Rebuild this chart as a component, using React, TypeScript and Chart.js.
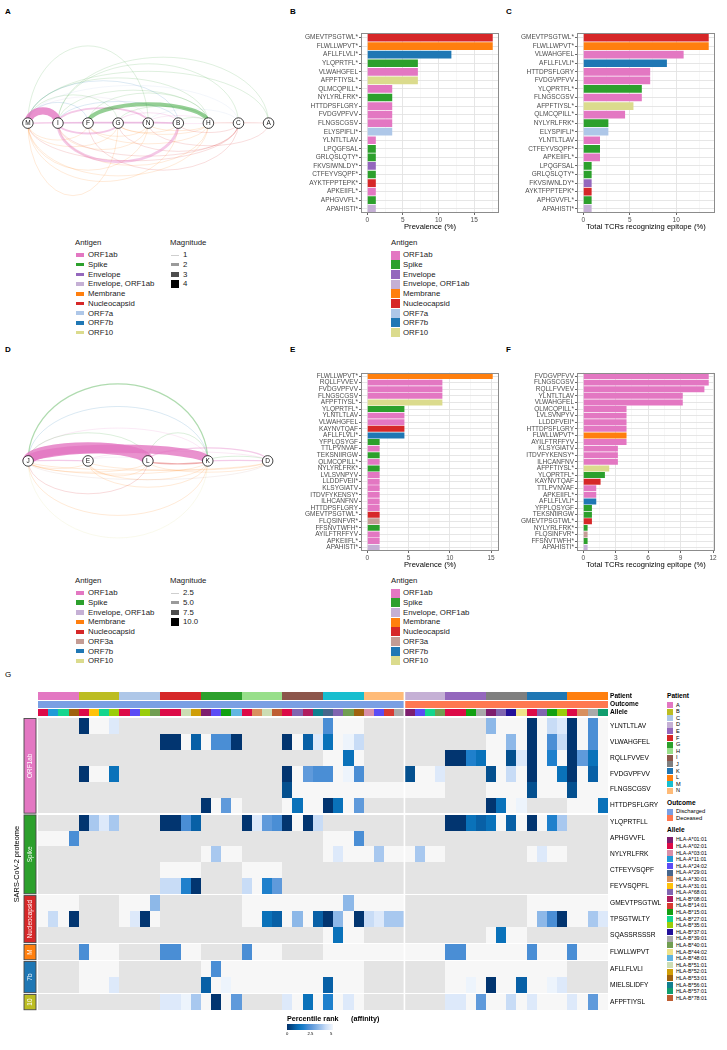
import React, { useEffect, useRef } from "react";
import { Chart, registerables } from "chart.js";

Chart.register(...registerables);

const FONT = "'Liberation Sans', Arial, Helvetica, sans-serif";

// ---------------- colours (styles) ----------------
const ANTIGEN_COLOR: Record<string, string> = {
  "ORF1ab": "#E377C2",
  "Spike": "#2CA02C",
  "Envelope": "#9467BD",
  "Envelope, ORF1ab": "#C5B0D5",
  "Membrane": "#FF7F0E",
  "Nucleocapsid": "#D62728",
  "ORF7a": "#AEC7E8",
  "ORF7b": "#1F77B4",
  "ORF10": "#DBDB8D",
  "ORF3a": "#C49C94",
};
const PATIENT_COLOR: Record<string, string> = {
  A: "#E377C2", B: "#BCBD22", C: "#AEC7E8", D: "#C5B0D5", E: "#9467BD", F: "#D62728", G: "#2CA02C",
  H: "#98DF8A", I: "#8C564B", J: "#7F7F7F", K: "#1F77B4", L: "#FF7F0E", M: "#17BECF", N: "#FFBB78",
};
const OUTCOME_COLOR: Record<string, string> = { Discharged: "#7A9FE3", Deceased: "#FF7850" };
const ALLELE_COLOR: Record<string, string> = {
  "HLA-A*01:01": "#7E1E6E", "HLA-A*02:01": "#DC0A47", "HLA-A*03:01": "#D98FA8", "HLA-A*11:01": "#1F9BD7",
  "HLA-A*24:02": "#5B4CF5", "HLA-A*29:01": "#46668C", "HLA-A*30:01": "#D9905E", "HLA-A*31:01": "#FFC20A",
  "HLA-A*68:01": "#8065B0", "HLA-B*08:01": "#B01E5E", "HLA-B*14:01": "#D83A32", "HLA-B*15:01": "#12A012",
  "HLA-B*27:01": "#14D68E", "HLA-B*35:01": "#9ACD0A", "HLA-B*37:01": "#22119A", "HLA-B*39:01": "#AAAAAA",
  "HLA-B*40:01": "#719E52", "HLA-B*44:02": "#EFE38A", "HLA-B*48:01": "#62B6E2", "HLA-B*51:01": "#CCDDB4",
  "HLA-B*52:01": "#CF9E08", "HLA-B*53:01": "#A0620E", "HLA-B*56:01": "#11808F", "HLA-B*57:01": "#119E6E",
  "HLA-B*78:01": "#BE5E32",
};
const PROTEIN_COLOR: Record<string, string> = {
  ORF1ab: "#E377C2", Spike: "#2CA02C", Nucleocapsid: "#D62728", M: "#FF7F0E", "7b": "#1F77B4", "10": "#BCBD22",
};

// ---------------- Panel A (arc diagram, discharged) ----------------
const aNodes = ["M", "I", "F", "G", "N", "B", "H", "C", "A"];
const aFrom = ["M","I","G","F","M","I","I","M","M","I","F","M","M","M","I","M","G","N","M","N","B","M","I","H","B",
  "I","I","M","M","M","M","I","F","N","G","M","M","I","F","G","N","I","M","G","B","F"];
const aTo = ["I","N","B","H","N","A","C","A","H","H","H","G","B","C","B","F","H","C","N","H","H","B","B","A","H",
  "B","G","G","B","N","H","H","C","A","C","G","F","N","H","H","H","C","C","B","C","N"];
const aAntigen = ["ORF1ab","ORF1ab","ORF1ab","Spike","Spike","Spike","Spike","Spike","Spike","Spike","Spike","Spike",
  "ORF7b","ORF7a","ORF7b","ORF7b","Spike","ORF7a","Envelope, ORF1ab","ORF1ab","Spike","ORF1ab","Envelope","Nucleocapsid","ORF1ab",
  "ORF1ab","ORF1ab","Membrane","Membrane","Membrane","Membrane","Membrane","Nucleocapsid","Nucleocapsid","Nucleocapsid",
  "Membrane","Membrane","Membrane","Membrane","Membrane","Membrane","Nucleocapsid","Nucleocapsid","Membrane","Nucleocapsid","Membrane"];
const aMagnitude = [4,2,1.5,3,1,1,1,1,1,1,1,1,1,1,1,1,1,1,1,1,1,2,1.5,1.5,1,
  2.5,2,1,1,1,1,1,1,1,1,1,1,1,1,1,1,1,1,1,1,1];
// layout: signed arc height (px) — positive above the node line, negative below
const aArcHeight = [13,16,11,20,82,70,63,55,48,35,32,30,45,40,23,22,18,15,28,8,6,0.6,0.4,0.5,-0.5,
  -41,-11,-77,-62,-50,-56,-45,-50,-24,-30,-25,-18,-28,-22,-12,-8,-35,-40,-10,-10,-14];

// ---------------- Panel D (arc diagram, deceased) ----------------
const dNodes = ["J", "E", "L", "K", "D"];
const dFrom = ["J","J","J","J","L","J","J","L","E","K","J","K","E","J","J","J","E","J","J","E","L","E","J","L","J","E","J"];
const dTo = ["K","K","K","L","K","L","K","D","D","D","E","D","L","K","K","L","K","K","L","K","D","D","D","K","E","L","D"];
const dAntigen = ["Spike","ORF7b","ORF1ab","Spike","Spike","ORF1ab","ORF1ab","ORF1ab","ORF1ab","Spike","ORF1ab","ORF1ab",
  "Envelope, ORF1ab","ORF10","Membrane","Nucleocapsid","Membrane","Membrane","Membrane","Membrane","Membrane","Membrane",
  "Membrane","Nucleocapsid","Membrane","Membrane","ORF3a"];
const dMagnitude = [2.5,1.5,1,1.5,1.5,10,7.5,2.5,1.5,1.5,2.5,2.5,1,1.5,1.5,1.5,1.5,1,1,1,1,1,1,2.5,1,1,1];
const dArcHeight = [82,58,35,30,30,14,13,14,10,5,0.5,0.5,4,-82,-58,-35,-28,-14,-12,-20,-12,-10,-10,-3,-8,-16,-20];

// ---------------- Panel B ----------------
const bEpitopes = ["GMEVTPSGTWL*","FLWLLWPVT*","AFLLFLVLI*","YLQPRTFL*","VLWAHGFEL","AFPFTIYSL*","QLMCQPILL*",
  "NYLYRLFRK*","HTTDPSFLGRY","FVDGVPFVV","FLNGSCGSV","ELYSPIFLI*","YLNTLTLAV","LPQGFSAL","GRLQSLQTY*",
  "FKVSIWNLDY*","CTFEYVSQPF*","AYKTFPPTEPK*","APKEIIFL*","APHGVVFL*","APAHISTI*"];
const bPrevalence = [17.6,17.6,11.8,7.1,7.1,7.1,3.5,3.5,3.5,3.5,3.5,3.5,1.2,1.2,1.2,1.2,1.2,1.2,1.2,1.2,1.2];
const bAntigen = ["Nucleocapsid","Membrane","ORF7b","Spike","ORF1ab","ORF10","ORF1ab","Spike","ORF1ab","ORF1ab",
  "ORF1ab","ORF7a","ORF1ab","Spike","Spike","Envelope","Spike","Nucleocapsid","ORF1ab","Spike","Envelope, ORF1ab"];

// ---------------- Panel C ----------------
const cEpitopes = ["GMEVTPSGTWL*","FLWLLWPVT*","VLWAHGFEL","AFLLFLVLI*","HTTDPSFLGRY","FVDGVPFVV","YLQPRTFL*",
  "FLNGSCGSV","AFPFTIYSL*","QLMCQPILL*","NYLYRLFRK*","ELYSPIFLI*","YLNTLTLAV","CTFEYVSQPF*","APKEIIFL*",
  "LPQGFSAL","GRLQSLQTY*","FKVSIWNLDY*","AYKTFPPTEPK*","APHGVVFL*","APAHISTI*"];
const cTcrPct = [13.5,13.5,10.8,9.0,7.2,7.2,6.3,6.3,5.4,4.5,2.7,2.7,1.8,1.8,1.8,0.9,0.9,0.9,0.9,0.9,0.9];
const cAntigen = ["Nucleocapsid","Membrane","ORF1ab","ORF7b","ORF1ab","ORF1ab","Spike","ORF1ab","ORF10","ORF1ab",
  "Spike","ORF7a","ORF1ab","Spike","ORF1ab","Spike","Spike","Envelope","Nucleocapsid","Spike","Envelope, ORF1ab"];

// ---------------- Panel E ----------------
const eEpitopes = ["FLWLLWPVT*","RQLLFVVEV","FVDGVPFVV","FLNGSCGSV","AFPFTIYSL*","YLQPRTFL*","YLNTLTLAV",
  "VLWAHGFEL","KAYNVTQAF","AFLLFLVLI*","YFPLQSYGF","TTLPVNVAF","TEKSNIIRGW","QLMCQPILL*","NYLYRLFRK*",
  "LVLSVNPYV","LLDDFVEII*","KLSYGIATV","ITDVFYKENSY*","ILHCANFNV","HTTDPSFLGRY","GMEVTPSGTWL*","FLQSINFVR*",
  "FFSNVTWFH*","AYILFTRFFYV","APKEIIFL*","APAHISTI*"];
const ePrevalence = [15.2,9.1,9.1,9.1,9.1,4.5,4.5,4.5,4.5,4.5,1.5,1.5,1.5,1.5,1.5,1.5,1.5,1.5,1.5,1.5,1.5,1.5,1.5,1.5,1.5,1.5,1.5];
const eAntigen = ["Membrane","ORF1ab","ORF1ab","ORF1ab","ORF10","Spike","ORF1ab","ORF1ab","Nucleocapsid","ORF7b",
  "Spike","ORF1ab","Spike","ORF1ab","Spike","ORF1ab","ORF1ab","ORF1ab","ORF1ab","ORF1ab","ORF1ab","Nucleocapsid",
  "ORF3a","Spike","ORF1ab","ORF1ab","Envelope, ORF1ab"];

// ---------------- Panel F ----------------
const fEpitopes = ["FVDGVPFVV","FLNGSCGSV","RQLLFVVEV","YLNTLTLAV","VLWAHGFEL","QLMCQPILL*","LVLSVNPYV",
  "LLDDFVEII*","HTTDPSFLGRY","FLWLLWPVT*","AYILFTRFFYV","KLSYGIATV","ITDVFYKENSY*","ILHCANFNV","AFPFTIYSL*",
  "YLQPRTFL*","KAYNVTQAF","TTLPVNVAF","APKEIIFL*","AFLLFLVLI*","YFPLQSYGF","TEKSNIIRGW","GMEVTPSGTWL*",
  "NYLYRLFRK*","FLQSINFVR*","FFSNVTWFH*","APAHISTI*"];
const fTcrPct = [11.6,11.6,11.2,9.2,9.2,4.0,4.0,4.0,4.0,4.0,4.0,3.2,3.2,3.2,2.4,2.0,1.6,1.2,1.2,1.2,0.8,0.8,0.8,0.4,0.4,0.4,0.4];
const fAntigen = ["ORF1ab","ORF1ab","ORF1ab","ORF1ab","ORF1ab","ORF1ab","ORF1ab","ORF1ab","ORF1ab","Membrane",
  "ORF1ab","ORF1ab","ORF1ab","ORF1ab","ORF10","Spike","Nucleocapsid","ORF1ab","ORF1ab","ORF7b","Spike","Spike",
  "Nucleocapsid","Spike","ORF3a","Spike","Envelope, ORF1ab"];

// ---------------- Panel G (heatmap) ----------------
const hmPeptides = ["YLNTLTLAV","VLWAHGFEL","RQLLFVVEV","FVDGVPFVV","FLNGSCGSV","HTTDPSFLGRY","YLQPRTFLL",
  "APHGVVFL","NYLYRLFRK","CTFEYVSQPF","FEYVSQPFL","GMEVTPSGTWL","TPSGTWLTY","SQASSRSSSR","FLWLLWPVT",
  "AFLLFLVLI","MIELSLIDFY","AFPFTIYSL"];
const hmProtein = ["ORF1ab","ORF1ab","ORF1ab","ORF1ab","ORF1ab","ORF1ab","Spike","Spike","Spike","Spike","Spike",
  "Nucleocapsid","Nucleocapsid","Nucleocapsid","M","7b","7b","10"];
const hmPatients = ["A","B","C","F","G","H","I","M","N","D","E","J","K","L"];
const hmOutcome = ["Discharged","Discharged","Discharged","Discharged","Discharged","Discharged","Discharged",
  "Discharged","Discharged","Deceased","Deceased","Deceased","Deceased","Deceased"];
const hmAlleles = [
  ["HLA-A*02:01","HLA-A*11:01","HLA-B*27:01","HLA-B*53:01"],
  ["HLA-A*02:01","HLA-A*31:01","HLA-B*27:01","HLA-B*35:01"],
  ["HLA-A*02:01","HLA-A*24:02","HLA-B*35:01","HLA-B*40:01"],
  ["HLA-A*02:01","HLA-A*02:01","HLA-B*51:01","HLA-B*52:01"],
  ["HLA-A*01:01","HLA-A*24:02","HLA-B*15:01","HLA-B*48:01"],
  ["HLA-A*02:01","HLA-A*30:01","HLA-B*51:01","HLA-B*78:01"],
  ["HLA-A*02:01","HLA-A*68:01","HLA-B*08:01","HLA-B*56:01"],
  ["HLA-A*29:01","HLA-A*68:01","HLA-B*40:01","HLA-B*53:01"],
  ["HLA-A*03:01","HLA-A*24:02","HLA-B*14:01","HLA-B*39:01"],
  ["HLA-A*01:01","HLA-A*24:02","HLA-B*27:01","HLA-B*40:01"],
  ["HLA-A*02:01","HLA-A*02:01","HLA-B*15:01","HLA-B*39:01"],
  ["HLA-A*01:01","HLA-A*68:01","HLA-B*37:01","HLA-B*44:02"],
  ["HLA-A*02:01","HLA-A*68:01","HLA-B*15:01","HLA-B*35:01"],
  ["HLA-A*02:01","HLA-A*30:01","HLA-B*39:01","HLA-B*57:01"],
];
// percentile rank per cell, one group of 4 alleles per patient:
// '.' = not tested (NA), '-' = above 5 (no binding), other codes -> RANK_VALUE
const hmRank = [
  ".... 0--v .... .... .... .... .... 5--- .... .... .... 7--- 0-9v 0-5-",
  ".... .... .... 00-2 -550 .... 0-2v 3-f9 .... .... .... --7- 0-59 0-5-",
  ".... .... .... .... .... .... .... --3- .... .... 0043 --1v 0-4- 063-",
  ".... 0--3 .... .... .... .... 0-65 5-f5 .... 1--v .... 1-9- 0--3 0-2-",
  ".... .... .... .... .... .... 1--- ---- ---- ---- .... ---- 1--- 1---",
  ".... .... .... .... 0-6- .... -3-- 03-6 .... .... .... 03-f .... ---3",
  ".... 08v8 .... 0052 .... 0v65 0-09 .... .... .... 0032 3-2- 0-48 ....",
  "---5 .... .... .... .... .... .... ---5 .... .... .... .... .... ....",
  ".... .... .... .... -8-- .... .... -v-- -8-- -8-- .... .... -v-- ....",
  ".... .... .... ---- .... ---- .... .... .... .... .... .... .... ....",
  ".... .... .... 9940 .... 9-46 .... .... .... .... .... .... .... ....",
  "---- .... ---7 .... .... ---- ---- --7- ---- .... .... .... ---- ----",
  "-9-0 .... -v0- .... .... --32 -7-2 07-0 9v88 .... .... .... -750 --8v",
  ".... .... .... .... .... .... .... -3-- .... .... .... -3-- .... ....",
  ".... 5--- .... 55-- .... 5--- .... ---- ---- ---- 55-- ---- 5--- 5---",
  ".... ---- .... .... -5-- ---- ---- ---- .... .... ---- ---- ---- ....",
  ".... ---v .... .... 2-f- ---- ---- 2--- .... .... --f- 0--2 --fv ....",
  ".... .... .... vvf8 -0-6 .... v-3- 4-v- .... .... vv-6 --9- v--- v-6-",
];
const RANK_VALUE: Record<string, number> = {
  "0": 0.1, "1": 0.6, "2": 0.9, "3": 1.3, "4": 1.8, "5": 2.3, "6": 2.7, "7": 3.4, "8": 3.8, "9": 4.2, v: 4.6, f: 4.9,
};
const RANK_STOPS: [number, string][] = [
  [0, "#02306A"], [0.6, "#04508F"], [0.9, "#0860A6"], [1.3, "#0A72BA"], [1.8, "#1F80CC"], [2.3, "#4A8ED5"],
  [2.7, "#5F9ADB"], [3.4, "#8DB8E8"], [3.8, "#A8C8EF"], [4.2, "#C8DCF6"], [4.6, "#DDE9FA"], [5, "#F2F7FD"],
];
const NA_COLOR = "#E4E4E4";
const NOBIND_COLOR = "#F7F7F7";

// ---------------- helpers ----------------
function hexToRgb(h: string) {
  const n = parseInt(h.slice(1), 16);
  return [(n >> 16) & 255, (n >> 8) & 255, n & 255];
}
function rgba(h: string, a: number) {
  const [r, g, b] = hexToRgb(h);
  return `rgba(${r},${g},${b},${a})`;
}
function rankColor(v: number) {
  for (let i = 0; i < RANK_STOPS.length - 1; i++) {
    const [v0, c0] = RANK_STOPS[i];
    const [v1, c1] = RANK_STOPS[i + 1];
    if (v <= v1) {
      const t = Math.max(0, (v - v0) / (v1 - v0));
      const a = hexToRgb(c0), b = hexToRgb(c1);
      return `rgb(${Math.round(a[0] + (b[0] - a[0]) * t)},${Math.round(a[1] + (b[1] - a[1]) * t)},${Math.round(a[2] + (b[2] - a[2]) * t)})`;
    }
  }
  return RANK_STOPS[RANK_STOPS.length - 1][1];
}

const panelBorder = {
  id: "panelBorder",
  afterDatasetsDraw(chart: any) {
    const { ctx, chartArea: a } = chart;
    ctx.save();
    ctx.strokeStyle = "#8C8C8C";
    ctx.lineWidth = 1;
    ctx.strokeRect(Math.round(a.left) + 0.5, Math.round(a.top) + 0.5, Math.round(a.right - a.left) - 1, Math.round(a.bottom - a.top) - 1);
    ctx.restore();
  },
};

function barConfig(labels: string[], values: number[], antigens: string[], xmin: number, xmax: number,
  major: number[], minor: number[], title: string, yAxisW: number, padTop: number) {
  const all = [...major, ...minor].sort((p, q) => p - q);
  const isMajor = (v: any) => major.indexOf(v) >= 0;
  return {
    type: "bar",
    data: {
      labels,
      datasets: [{
        data: values,
        backgroundColor: antigens.map((a) => ANTIGEN_COLOR[a]),
        borderWidth: 0,
        barPercentage: 1,
        categoryPercentage: 0.9,
      }],
    },
    options: {
      indexAxis: "y",
      animation: false,
      responsive: false,
      devicePixelRatio: 1,
      layout: { padding: { top: padTop, right: 3, left: 0, bottom: 0 } },
      plugins: { legend: { display: false }, tooltip: { enabled: false } },
      scales: {
        x: {
          type: "linear",
          min: xmin,
          max: xmax,
          afterBuildTicks: (s: any) => { s.ticks = all.map((v) => ({ value: v })); },
          ticks: {
            autoSkip: false, maxRotation: 0, padding: 1, color: "#4D4D4D",
            font: { family: FONT, size: 6.5 },
            callback: (v: any) => (isMajor(v) ? String(v) : ""),
          },
          grid: {
            color: (c: any) => (c.tick && isMajor(c.tick.value) ? "#E3E3E3" : "#F1F1F1"),
            lineWidth: (c: any) => (c.tick && isMajor(c.tick.value) ? 0.9 : 0.6),
            tickLength: 2,
            tickColor: (c: any) => (c.tick && isMajor(c.tick.value) ? "#555" : "rgba(0,0,0,0)"),
          },
          border: { display: false },
          title: { display: true, text: title, color: "#000", font: { family: FONT, size: 7.6 }, padding: { top: 0, bottom: 2 } },
          afterFit: (s: any) => { s.height = 20; },
        },
        y: {
          type: "category",
          ticks: { autoSkip: false, padding: 1, color: "#4D4D4D", font: { family: FONT, size: 6.5 } },
          grid: { offset: false, color: "#E3E3E3", lineWidth: 0.9, tickLength: 2, tickColor: "#555" },
          border: { display: false },
          afterFit: (s: any) => { s.width = yAxisW; },
        },
      },
    },
    plugins: [panelBorder],
  };
}

function arcConfig(nodes: string[], from: string[], to: string[], antigen: string[], mag: number[], arcH: number[],
  pxPerUnit: number, nodeX0: number, nodeY: number, w: number, h: number,
  widthFn: (m: number) => number, alphaFn: (m: number) => number) {
  const order = mag.map((_, i) => i).sort((p, q) => mag[p] - mag[q]);
  return {
    type: "scatter",
    data: {
      datasets: [{
        data: nodes.map((_, i) => ({ x: i, y: 0 })),
        pointRadius: 5.3,
        pointBackgroundColor: "#FFFFFF",
        pointBorderColor: "#111111",
        pointBorderWidth: 0.8,
      }],
    },
    options: {
      animation: false,
      responsive: false,
      devicePixelRatio: 1,
      layout: { padding: 0 },
      plugins: { legend: { display: false }, tooltip: { enabled: false } },
      scales: {
        x: { type: "linear", display: false, min: -nodeX0 / pxPerUnit, max: (w - nodeX0) / pxPerUnit },
        y: { type: "linear", display: false, min: -(h - nodeY), max: nodeY },
      },
    },
    plugins: [{
      id: "arcs",
      beforeDatasetsDraw(chart: any) {
        const { ctx } = chart;
        const xs = chart.scales.x, ys = chart.scales.y;
        const y0 = ys.getPixelForValue(0);
        ctx.save();
        order.forEach((i) => {
          const a = xs.getPixelForValue(nodes.indexOf(from[i]));
          const b = xs.getPixelForValue(nodes.indexOf(to[i]));
          const cx = (a + b) / 2, rx = Math.abs(b - a) / 2;
          const ry = Math.max(0.3, Math.abs(ys.getPixelForValue(arcH[i]) - y0));
          ctx.beginPath();
          if (arcH[i] >= 0) ctx.ellipse(cx, y0, rx, ry, 0, Math.PI, 2 * Math.PI);
          else ctx.ellipse(cx, y0, rx, ry, 0, 0, Math.PI);
          ctx.strokeStyle = rgba(ANTIGEN_COLOR[antigen[i]], alphaFn(mag[i]));
          ctx.lineWidth = widthFn(mag[i]);
          ctx.stroke();
        });
        ctx.restore();
      },
      afterDatasetsDraw(chart: any) {
        const { ctx } = chart;
        const xs = chart.scales.x, ys = chart.scales.y;
        ctx.save();
        ctx.fillStyle = "#111";
        ctx.font = `6.5px ${FONT}`;
        ctx.textAlign = "center";
        ctx.textBaseline = "middle";
        nodes.forEach((n, i) => ctx.fillText(n, xs.getPixelForValue(i), ys.getPixelForValue(0) + 0.3));
        ctx.restore();
      },
    }],
  };
}

// heatmap geometry (layout, in row units)
const HM_GAP = 0.075;
const ANN = { patient: [-1.644, -1.169], outcome: [-1.081, -0.625], allele: [-0.581, -0.125] };

function heatmapConfig() {
  const groupIdx: number[] = [];
  let g = 0;
  hmProtein.forEach((p, r) => { if (r > 0 && p !== hmProtein[r - 1]) g++; groupIdx.push(g); });
  const rowTop = hmProtein.map((_, r) => r + groupIdx[r] * HM_GAP);
  const yMax = rowTop[rowTop.length - 1] + 1;
  const cols: { patient: string; outcome: string; allele: string }[] = [];
  hmPatients.forEach((p, i) => hmAlleles[i].forEach((al) => cols.push({ patient: p, outcome: hmOutcome[i], allele: al })));
  const codes = hmRank.map((s) => s.replace(/ /g, ""));
  const tickVals = [
    (ANN.patient[0] + ANN.patient[1]) / 2, (ANN.outcome[0] + ANN.outcome[1]) / 2, (ANN.allele[0] + ANN.allele[1]) / 2,
    ...rowTop.map((t) => t + 0.5),
  ];
  const tickLabels = ["Patient", "Outcome", "Allele", ...hmPeptides];
  const splitCol = hmOutcome.indexOf("Deceased") * 4;

  return {
    type: "scatter",
    data: { datasets: [{ data: [] as any[] }] },
    options: {
      animation: false,
      responsive: false,
      devicePixelRatio: 1,
      layout: { padding: { left: 38, top: 5.6, right: 0, bottom: 4 } },
      plugins: { legend: { display: false }, tooltip: { enabled: false } },
      scales: {
        x: { type: "linear", display: false, min: 0, max: cols.length },
        y: {
          type: "linear", position: "right", reverse: true, min: ANN.patient[0] - 0.006, max: yMax,
          afterBuildTicks: (s: any) => { s.ticks = tickVals.map((v) => ({ value: v })); },
          ticks: {
            autoSkip: false, padding: 2, color: "#000",
            font: (c: any) => (c.tick && c.tick.value < 0
              ? { family: FONT, size: 6.6, weight: "bold" }
              : { family: FONT, size: 6.6 }),
            callback: (_v: any, i: number) => tickLabels[i],
          },
          grid: { display: false, drawTicks: false },
          border: { display: false },
          afterFit: (s: any) => { s.width = 57; },
        },
      },
    },
    plugins: [{
      id: "heatmap",
      beforeDatasetsDraw(chart: any) {
        const { ctx } = chart;
        const xs = chart.scales.x, ys = chart.scales.y;
        const X = (c: number) => Math.round(xs.getPixelForValue(c));
        const Y = (v: number) => Math.round(ys.getPixelForValue(v));
        ctx.save();
        // top annotations
        cols.forEach((col, c) => {
          const x0 = X(c), x1 = X(c + 1);
          ctx.fillStyle = PATIENT_COLOR[col.patient];
          ctx.fillRect(x0, Y(ANN.patient[0]), x1 - x0, Y(ANN.patient[1]) - Y(ANN.patient[0]));
          ctx.fillStyle = OUTCOME_COLOR[col.outcome];
          ctx.fillRect(x0, Y(ANN.outcome[0]), x1 - x0, Y(ANN.outcome[1]) - Y(ANN.outcome[0]));
          ctx.fillStyle = ALLELE_COLOR[col.allele];
          ctx.fillRect(x0, Y(ANN.allele[0]), x1 - x0, Y(ANN.allele[1]) - Y(ANN.allele[0]));
        });
        // body
        codes.forEach((code, r) => {
          const y0 = Y(rowTop[r]), y1 = Y(rowTop[r] + 1);
          for (let c = 0; c < cols.length; c++) {
            const ch = code[c];
            ctx.fillStyle = ch === "." ? NA_COLOR : ch === "-" ? NOBIND_COLOR : rankColor(RANK_VALUE[ch]);
            const x0 = X(c), x1 = X(c + 1);
            ctx.fillRect(x0, y0, x1 - x0, y1 - y0);
          }
        });
        // column split between outcome groups
        ctx.fillStyle = "#FFFFFF";
        const sx = xs.getPixelForValue(splitCol);
        ctx.fillRect(sx - 0.8, Y(ANN.patient[0]) - 1, 1.6, Y(yMax) - Y(ANN.patient[0]) + 2);
        // left protein annotation
        const groups: { name: string; a: number; b: number }[] = [];
        hmProtein.forEach((p, r) => {
          if (r === 0 || p !== hmProtein[r - 1]) groups.push({ name: p, a: r, b: r });
          else groups[groups.length - 1].b = r;
        });
        const gx0 = xs.getPixelForValue(-1.375), gx1 = xs.getPixelForValue(-0.196);
        groups.forEach((gr) => {
          const y0 = ys.getPixelForValue(rowTop[gr.a]) + 0.3, y1 = ys.getPixelForValue(rowTop[gr.b] + 1) - 0.3;
          ctx.fillStyle = PROTEIN_COLOR[gr.name];
          ctx.fillRect(gx0, y0, gx1 - gx0, y1 - y0);
          ctx.strokeStyle = "#4A4A4A";
          ctx.lineWidth = 0.9;
          ctx.strokeRect(gx0, y0, gx1 - gx0, y1 - y0);
          ctx.save();
          ctx.translate((gx0 + gx1) / 2, (y0 + y1) / 2);
          ctx.rotate(-Math.PI / 2);
          ctx.fillStyle = "#FFFFFF";
          ctx.font = `6.4px ${FONT}`;
          ctx.textAlign = "center";
          ctx.textBaseline = "middle";
          ctx.fillText(gr.name, 0, 0.3);
          ctx.restore();
        });
        ctx.save();
        ctx.translate(xs.getPixelForValue(-2.06), ys.getPixelForValue(yMax / 2));
        ctx.rotate(-Math.PI / 2);
        ctx.fillStyle = "#000";
        ctx.font = `7.4px ${FONT}`;
        ctx.textAlign = "center";
        ctx.textBaseline = "middle";
        ctx.fillText("SARS-CoV-2 proteome", 0, 0);
        ctx.restore();
        ctx.restore();
      },
    }],
  };
}

// ---------------- components ----------------
function ChartBox({ left, top, width, height, make }: { left: number; top: number; width: number; height: number; make: () => any }) {
  const ref = useRef<HTMLCanvasElement>(null);
  useEffect(() => {
    const chart = new Chart(ref.current as HTMLCanvasElement, make());
    return () => chart.destroy();
  }, []);
  return <canvas ref={ref} width={width} height={height} style={{ position: "absolute", left, top, width, height }} />;
}

function T({ x, y, s, children, bold = false, color = "#000" }: { x: number; y: number; s: number; children: any; bold?: boolean; color?: string }) {
  return (
    <div style={{ position: "absolute", left: x, top: y - s * 0.6, fontSize: s, lineHeight: `${s * 1.2}px`, fontWeight: bold ? 700 : 400, color, whiteSpace: "nowrap" }}>
      {children}
    </div>
  );
}

function Box({ x, y, w, h, color }: { x: number; y: number; w: number; h: number; color: string }) {
  return <div style={{ position: "absolute", left: x, top: y - h / 2, width: w, height: h, background: color }} />;
}

const legendA = ["ORF1ab", "Spike", "Envelope", "Envelope, ORF1ab", "Membrane", "Nucleocapsid", "ORF7a", "ORF7b", "ORF10"];
const legendD = ["ORF1ab", "Spike", "Envelope, ORF1ab", "Membrane", "Nucleocapsid", "ORF3a", "ORF7b", "ORF10"];
const magA = ["1", "2", "3", "4"];
const magD = ["2.5", "5.0", "7.5", "10.0"];
const magKey = [{ h: 1, c: "#CFCFCF" }, { h: 2.6, c: "#9A9A9A" }, { h: 5, c: "#4D4D4D" }, { h: 7.5, c: "#000" }];
const alleleLegend = Object.keys(ALLELE_COLOR);
const patientLegend = Object.keys(PATIENT_COLOR);

function ArcLegend({ y, items, mags, keyH }: { y: number; items: string[]; mags: string[]; keyH: number }) {
  const step = 9.7;
  return (
    <>
      <T x={75} y={y} s={7.8} color="#1a1a1a">Antigen</T>
      {items.map((a, i) => (
        <React.Fragment key={a}>
          <Box x={76} y={y + 12 + step * i} w={8} h={keyH} color={ANTIGEN_COLOR[a]} />
          <T x={88} y={y + 12 + step * i} s={7.8} color="#1a1a1a">{a}</T>
        </React.Fragment>
      ))}
      <T x={170} y={y} s={7.8} color="#1a1a1a">Magnitude</T>
      {mags.map((m, i) => (
        <React.Fragment key={m}>
          <Box x={171} y={y + 12 + step * i} w={7.5} h={magKey[i].h} color={magKey[i].c} />
          <T x={183} y={y + 12 + step * i} s={7.8} color="#1a1a1a">{m}</T>
        </React.Fragment>
      ))}
    </>
  );
}

function BarLegend({ y, items }: { y: number; items: string[] }) {
  const step = 9.7;
  return (
    <>
      <T x={391} y={y} s={7.8} color="#1a1a1a">Antigen</T>
      {items.map((a, i) => (
        <React.Fragment key={a}>
          <Box x={391} y={y + 12 + step * i} w={9} h={9} color={ANTIGEN_COLOR[a]} />
          <T x={403} y={y + 12 + step * i} s={7.8} color="#1a1a1a">{a}</T>
        </React.Fragment>
      ))}
    </>
  );
}

function HeatLegend() {
  const gradient = `linear-gradient(to right, ${RANK_STOPS.map(([v, c]) => `${c} ${(v / 5) * 100}%`).join(", ")})`;
  return (
    <>
      <T x={667} y={696} s={6.6} bold>Patient</T>
      {patientLegend.map((p, i) => (
        <React.Fragment key={p}>
          <Box x={667} y={705 + 6.6 * i} w={6} h={6} color={PATIENT_COLOR[p]} />
          <T x={676} y={705 + 6.6 * i} s={5.6}>{p}</T>
        </React.Fragment>
      ))}
      <T x={667} y={803} s={6.6} bold>Outcome</T>
      {["Discharged", "Deceased"].map((o, i) => (
        <React.Fragment key={o}>
          <Box x={667} y={811.7 + 6.6 * i} w={6} h={6} color={OUTCOME_COLOR[o]} />
          <T x={676} y={811.7 + 6.6 * i} s={5.8}>{o}</T>
        </React.Fragment>
      ))}
      <T x={667} y={830} s={6.6} bold>Allele</T>
      {alleleLegend.map((a, i) => (
        <React.Fragment key={a}>
          <Box x={667} y={839.5 + 6.6 * i} w={6} h={6} color={ALLELE_COLOR[a]} />
          <T x={676} y={839.5 + 6.6 * i} s={5.3}>{a}</T>
        </React.Fragment>
      ))}
      <T x={287} y={1019} s={7.2} bold>Percentile rank</T>
      <T x={351} y={1019} s={7.2} bold>(affinity)</T>
      <div style={{ position: "absolute", left: 287, top: 1023.5, width: 46, height: 6.5, background: gradient }} />
      <T x={286} y={1034} s={4.2}>0</T>
      <T x={307.5} y={1034} s={4.2}>2.5</T>
      <T x={330} y={1034} s={4.2}>5</T>
    </>
  );
}

export default function App() {
  return (
    <div style={{ position: "absolute", left: 0, top: 0, width: 727, height: 1050, background: "#fff", fontFamily: FONT, overflow: "hidden" }}>
      <T x={5} y={12} s={8} bold>A</T>
      <T x={290} y={12} s={8} bold>B</T>
      <T x={506} y={12} s={8} bold>C</T>
      <T x={5} y={350} s={8} bold>D</T>
      <T x={290} y={350} s={8} bold>E</T>
      <T x={506} y={350} s={8} bold>F</T>
      <T x={5} y={675} s={8}>G</T>

      <ChartBox left={0} top={20} width={290} height={210}
        make={() => arcConfig(aNodes, aFrom, aTo, aAntigen, aMagnitude, aArcHeight, 31.41, 22.7, 103, 290, 210,
          (m) => Math.max(0.7, 0.45 * m * m), (m) => (m >= 4 ? 0.8 : m >= 3 ? 0.5 : m >= 2 ? 0.4 : 0.22))} />
      <ArcLegend y={243} items={legendA} mags={magA} keyH={3.5} />

      <ChartBox left={290} top={28} width={212} height={205}
        make={() => barConfig(bEpitopes, bPrevalence, bAntigen, -0.88, 18.48, [0, 5, 10, 15], [2.5, 7.5, 12.5, 17.5], "Prevalence (%)", 71, 5.3)} />
      <BarLegend y={243} items={legendA} />

      <ChartBox left={507} top={28} width={211} height={205}
        make={() => barConfig(cEpitopes, cTcrPct, cAntigen, -0.675, 14.175, [0, 5, 10], [2.5, 7.5, 12.5], "Total TCRs recognizing epitope (%)", 70, 5.3)} />

      <ChartBox left={0} top={360} width={290} height={200}
        make={() => arcConfig(dNodes, dFrom, dTo, dAntigen, dMagnitude, dArcHeight, 62.5, 23, 101, 290, 200,
          (m) => (m >= 5 ? 1.1 * m : Math.max(0.7, 0.5 * m)), (m) => (m >= 7 ? 0.8 : m >= 2.5 ? 0.38 : 0.22))} />
      <ArcLegend y={581} items={legendD} mags={magD} keyH={4.5} />

      <ChartBox left={290} top={367} width={212} height={204}
        make={() => barConfig(eEpitopes, ePrevalence, eAntigen, -0.76, 15.96, [0, 5, 10, 15], [2.5, 7.5, 12.5], "Prevalence (%)", 71, 5.7)} />
      <BarLegend y={581} items={legendD} />

      <ChartBox left={507} top={367} width={211} height={204}
        make={() => barConfig(fEpitopes, fTcrPct, fAntigen, -0.58, 12.18, [0, 3, 6, 9, 12], [1.5, 4.5, 7.5, 10.5], "Total TCRs recognizing epitope (%)", 70, 5.7)} />

      <ChartBox left={0} top={686} width={665} height={330} make={() => heatmapConfig()} />
      <HeatLegend />
    </div>
  );
}
